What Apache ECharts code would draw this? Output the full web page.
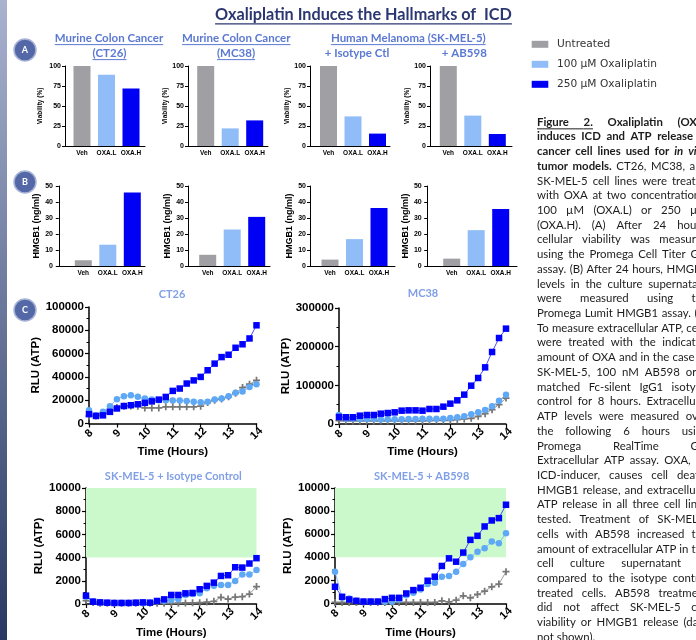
<!DOCTYPE html>
<html>
<head>
<meta charset="utf-8">
<script src="https://cdn.jsdelivr.net/npm/echarts@6/dist/echarts.min.js"></script>
</head>
<body style="margin:0; background:#fff">
<div id="container" style="width:696px; height:640px"></div>
<script>
// ---- data ----
var groups = ['Veh', 'OXA.L', 'OXA.H'];
var groupColors = ['#a0a0a4', '#90bdf8', '#0000f5'];

var viabCT26 = [100, 89, 72];
var viabMC38 = [100, 22, 32];
var viabSkIso = [100, 37, 15.5];
var viabSkAb = [100, 38, 15];

var hmgbCT26 = [3.6, 13.3, 46];
var hmgbMC38 = [7, 22.8, 30.7];
var hmgbSkIso = [4, 16.8, 36.2];
var hmgbSkAb = [4.6, 22.4, 35.7];

var hours = [8, 8.25, 8.5, 8.75, 9, 9.25, 9.5, 9.75, 10, 10.25, 10.5, 10.75, 11,
             11.25, 11.5, 11.75, 12, 12.25, 12.5, 12.75, 13, 13.25, 13.5, 13.75, 14];

var ct26Untreated = [6300, 6500, 8600, 10900, 13700, 14900, 15100, 14900, 13400, 13400, 13400, 14300, 14300,
                     14300, 14300, 14300, 14900, 18000, 20000, 21000, 23000, 26000, 30900, 33700, 37100];
var ct26Low = [11400, 7000, 10000, 14900, 20900, 23400, 24300, 22900, 21400, 20600, 20000, 20000, 19700,
               19700, 19400, 18600, 18300, 18600, 20600, 21400, 23400, 26300, 27400, 31400, 33700];
var ct26High = [8000, 6500, 7000, 10000, 12900, 15000, 15700, 16500, 17700, 19000, 20500, 22800, 28000,
                30000, 34300, 37000, 40000, 45700, 51400, 57000, 59000, 65000, 68000, 73000, 84300];

var mc38Untreated = [8600, 7800, 7800, 7800, 7800, 7800, 7800, 7800, 7800, 7800, 7800, 7800, 7800,
                     9000, 9500, 9500, 9500, 11200, 13000, 14600, 19800, 26700, 37100, 50000, 67200];
var mc38Low = [23300, 13800, 13800, 13000, 13000, 13000, 11800, 12000, 12000, 12500, 13000, 13000, 13500,
               13800, 13800, 13800, 15500, 17200, 19800, 25000, 30200, 36200, 45700, 60300, 75900];
var mc38High = [18100, 17500, 17500, 21500, 23300, 23300, 26700, 28400, 30200, 34500, 35300, 35300, 34500,
                38800, 38800, 44800, 52600, 61200, 75900, 99100, 119000, 146500, 186200, 222400, 246600];

var skIsoUntreated = [290, 140, 60, 60, 60, 60, 60, 60, 60, 60, 60, 60, 60,
                      70, 90, 100, 115, 170, 230, 580, 430, 600, 630, 860, 1500];
var skIsoLow = [630, 230, 140, 90, 90, 90, 90, 90, 90, 90, 230, 290, 350,
                400, 780, 860, 920, 1350, 1580, 1640, 1640, 1990, 2540, 2540, 2940];
var skIsoHigh = [720, 200, 140, 115, 90, 90, 90, 115, 140, 115, 260, 400, 780,
                 780, 920, 950, 1270, 1560, 1840, 2420, 2480, 3170, 3140, 3490, 3950];

var skAbUntreated = [90, 90, 90, 90, 90, 90, 90, 90, 90, 90, 90, 90, 90,
                     90, 90, 230, 150, 290, 670, 490, 780, 1070, 1450, 1680, 2750];
var skAbLow = [2750, 490, 430, 230, 145, 145, 145, 145, 145, 350, 720, 930, 1220,
               1680, 1800, 2320, 2380, 2750, 3420, 4000, 4490, 4780, 5360, 5220, 6090];
var skAbHigh = [1450, 580, 350, 230, 170, 170, 170, 380, 490, 490, 870, 1160, 1360,
                1970, 2320, 3250, 3910, 3620, 4410, 5510, 5860, 6670, 7190, 7390, 8550];

var legendNames = ['Untreated', '100 µM Oxaliplatin', '250 µM Oxaliplatin'];

var capLines = [
  '_Figure _2. *Oxaliplatin *(OXA)',
  '*induces *ICD *and *ATP *release *in',
  '*cancer *cell *lines *used *for ~in ~vivo',
  '*tumor *models. CT26, MC38, and',
  'SK-MEL-5 cell lines were treated',
  'with OXA at two concentrations:',
  '100 µM (OXA.L) or 250 µM',
  '(OXA.H). (A) After 24 hours,',
  'cellular viability was measured',
  'using the Promega Cell Titer Glo',
  'assay. (B) After 24 hours, HMGB1',
  'levels in the culture supernatant',
  'were measured using the',
  'Promega Lumit HMGB1 assay. (C)',
  'To measure extracellular ATP, cells',
  'were treated with the indicated',
  'amount of OXA and in the case of',
  'SK-MEL-5, 100 nM AB598 or a',
  'matched Fc-silent IgG1 isotype',
  'control for 8 hours. Extracellular',
  'ATP levels were measured over',
  'the following 6 hours using',
  'Promega RealTime Glo',
  'Extracellular ATP assay. OXA, an',
  'ICD-inducer, causes cell death,',
  'HMGB1 release, and extracellular',
  'ATP release in all three cell lines',
  'tested. Treatment of SK-MEL-5',
  'cells with AB598 increased the',
  'amount of extracellular ATP in the',
  'cell culture supernatant as',
  'compared to the isotype control',
  'treated cells. AB598 treatment',
  'did not affect SK-MEL-5 cell',
  'viability or HMGB1 release (data',
  'not shown).'
];

// ---- layout ----
var barValues = [viabCT26, viabMC38, viabSkIso, viabSkAb, hmgbCT26, hmgbMC38, hmgbSkIso, hmgbSkAb];
var barLayout = [
  {axis: 65, veh: 82, end: 145, top: 66, max: 100, step: 25, name: 'Viability (%)', gap: 21},
  {axis: 188, veh: 205.7, end: 268, top: 66, max: 100, step: 25, name: 'Viability (%)', gap: 16},
  {axis: 310, veh: 328.5, end: 390, top: 66, max: 100, step: 25, name: 'Viability (%)', gap: 18},
  {axis: 430, veh: 448.3, end: 512, top: 66, max: 100, step: 25, name: 'Viability (%)', gap: 17},
  {axis: 57, veh: 83.3, end: 145, top: 186, max: 50, step: 10, name: 'HMGB1 (ng/ml)', gap: 8},
  {axis: 188, veh: 207.7, end: 270, top: 186, max: 50, step: 10, name: 'HMGB1 (ng/ml)', gap: 15},
  {axis: 310, veh: 330, end: 395, top: 186, max: 50, step: 10, name: 'HMGB1 (ng/ml)', gap: 11},
  {axis: 425.7, veh: 451.7, end: 517, top: 186, max: 50, step: 10, name: 'HMGB1 (ng/ml)', gap: 6}
];
var barSpacing = 24.5;

var lineValues = [
  [ct26Untreated, ct26Low, ct26High],
  [mc38Untreated, mc38Low, mc38High],
  [skIsoUntreated, skIsoLow, skIsoHigh],
  [skAbUntreated, skAbLow, skAbHigh]
];
var lineLayout = [
  {left: 89, top: 307, width: 167.5, height: 116.5, max: 100000, step: 20000, gap: 45, band: false},
  {left: 339, top: 308, width: 167, height: 116, max: 300000, step: 100000, gap: 45, band: false},
  {left: 86, top: 488, width: 170.5, height: 116, max: 10000, step: 2000, gap: 35, band: true},
  {left: 335, top: 488, width: 171, height: 115.5, max: 10000, step: 2000, gap: 35, band: true}
];
var plusPath = 'path://M3,0H5V3H8V5H5V8H3V5H0V3H3Z';
var lineStyles = [
  {symbol: plusPath, size: 7, color: '#777777', line: '#9c9c9c'},
  {symbol: 'circle', size: 6.5, color: '#5ea8f6', line: '#86bdf7'},
  {symbol: 'rect', size: 6.5, color: '#0000ff', line: '#4a4aff'}
];

// ---- text helpers ----
var ctx = document.createElement('canvas').getContext('2d');
function textWidth(str, font) { ctx.font = font; return ctx.measureText(str).width; }
function fitSize(str, weight, family, target) {
  return 20 * target / textWidth(str, weight + ' 20px ' + family);
}

var graphics = [];
graphics.push({
  type: 'rect', shape: {x: 0, y: 0, width: 7, height: 640},
  style: {fill: new echarts.graphic.LinearGradient(0, 0, 0, 1, [
    {offset: 0, color: '#a9b2cf'}, {offset: 1, color: '#283862'}])}
});

function addText(txt, cx, cy, size, weight, family, color, underline) {
  var w = textWidth(txt, weight + ' ' + size + 'px ' + family);
  graphics.push({type: 'text', style: {text: txt, x: cx, y: cy, align: 'center', verticalAlign: 'middle',
    fontSize: size, fontWeight: weight, fontFamily: family, fill: color}});
  if (underline) {
    var uy = cy + size * 0.55;
    graphics.push({type: 'line', shape: {x1: cx - w / 2, y1: uy, x2: cx + w / 2, y2: uy},
      style: {stroke: color, lineWidth: Math.max(1, size / 14)}});
  }
}

var titleSize = fitSize('Oxaliplatin Induces the Hallmarks of  ICD', 'bold', 'Lato', 297);
addText('Oxaliplatin Induces the Hallmarks of  ICD', 363.5, 15, titleSize, 'bold', 'Lato', '#2b3770', true);

var subSize = fitSize('Human Melanoma (SK-MEL-5)', 'bold', 'Lato', 155);
var subColor = '#5b79d3';
addText('Murine Colon Cancer', 109, 38.3, subSize, 'bold', 'Lato', subColor, true);
addText('(CT26)', 109.5, 53.3, subSize, 'bold', 'Lato', subColor, true);
addText('Murine Colon Cancer', 236.3, 38.3, subSize, 'bold', 'Lato', subColor, true);
addText('(MC38)', 236, 53.3, subSize, 'bold', 'Lato', subColor, true);
addText('Human Melanoma (SK-MEL-5)', 408.3, 38.3, subSize, 'bold', 'Lato', subColor, true);
addText('+ Isotype Ctl', 357, 53.3, subSize, 'bold', 'Lato', subColor, false);
addText('+ AB598', 464.3, 53.3, subSize, 'bold', 'Lato', subColor, false);

var cTitleSize = fitSize('SK-MEL-5 + Isotype Control', 'bold', 'Lato', 137);
var cTitleColor = '#809fe6';
addText('CT26', 172, 294, cTitleSize, 'bold', 'Lato', cTitleColor, false);
addText('MC38', 423, 293, cTitleSize, 'bold', 'Lato', cTitleColor, false);
addText('SK-MEL-5 + Isotype Control', 173.3, 476, cTitleSize, 'bold', 'Lato', cTitleColor, false);
addText('SK-MEL-5 + AB598', 421.7, 476, cTitleSize, 'bold', 'Lato', cTitleColor, false);

// panel letters
[['A', 50], ['B', 182], ['C', 310]].forEach(function (p) {
  graphics.push({type: 'circle', shape: {cx: 25, cy: p[1], r: 11},
    style: {fill: '#5468a8', stroke: '#aab4d6', lineWidth: 1.5}});
  graphics.push({type: 'text', style: {text: p[0], x: 25, y: p[1], align: 'center', verticalAlign: 'middle',
    fontSize: 9, fontWeight: 'bold', fontFamily: 'Lato', fill: '#ffffff'}});
});

// legend
var legSize = fitSize('100 µM Oxaliplatin', 'normal', 'DejaVu Sans', 100);
legendNames.forEach(function (name, i) {
  var cy = 44.3 + i * 20;
  graphics.push({type: 'rect', shape: {x: 531.7, y: cy - 3.5, width: 16.6, height: 7},
    style: {fill: groupColors[i]}});
  graphics.push({type: 'text', style: {text: name, x: 557, y: cy, align: 'left', verticalAlign: 'middle',
    fontSize: legSize, fontFamily: 'DejaVu Sans', fill: '#333333'}});
});

// justified caption
var capX = 537, capW = 171, capY0 = 122, capDy = 14.72;
var capSize = fitSize('amount of extracellular ATP in t', 'normal', 'Lato', 158);
function capFont(w) {
  return (w.italic ? 'italic ' : '') + (w.bold ? 'bold ' : 'normal ') + capSize + 'px Lato';
}
capLines.forEach(function (line, li) {
  var words = line.split(' ').map(function (tok) {
    var c = tok.charAt(0);
    if (c === '*') return {text: tok.slice(1), bold: true};
    if (c === '~') return {text: tok.slice(1), bold: true, italic: true};
    if (c === '_') return {text: tok.slice(1), bold: true, under: true};
    return {text: tok};
  });
  var widths = words.map(function (w) { return textWidth(w.text, capFont(w)); });
  var total = widths.reduce(function (a, b) { return a + b; }, 0);
  var space = textWidth(' ', 'normal ' + capSize + 'px Lato');
  var gap = space;
  if (li < capLines.length - 1 && words.length > 1) gap = Math.max(space, (capW - total) / (words.length - 1));
  var x = capX, y = capY0 + li * capDy;
  words.forEach(function (w, wi) {
    graphics.push({type: 'text', style: {text: w.text, x: x, y: y, align: 'left', verticalAlign: 'middle',
      fontSize: capSize, fontFamily: 'Lato', fontWeight: w.bold ? 'bold' : 'normal',
      fontStyle: w.italic ? 'italic' : 'normal', fill: '#1c1c1c'}});
    if (w.under) {
      var x2 = x + widths[wi] + ((words[wi + 1] && words[wi + 1].under) ? gap : 0);
      graphics.push({type: 'line', shape: {x1: x, y1: y + capSize * 0.6, x2: x2, y2: y + capSize * 0.6},
        style: {stroke: '#1c1c1c', lineWidth: 1}});
    }
    x += widths[wi] + gap;
  });
});

// ---- charts ----
var grids = [], xAxes = [], yAxes = [], series = [];
var axisFont = 'Liberation Sans';
function plain(v) { return String(v); }

barLayout.forEach(function (b, i) {
  grids.push({left: b.axis, top: b.top, width: b.end - b.axis, height: 80});
  xAxes.push({
    type: 'value', gridIndex: i,
    min: 1 - (b.veh - b.axis) / barSpacing,
    max: 1 + (b.end - b.veh) / barSpacing,
    splitLine: {show: false}, axisTick: {show: false},
    axisLine: {show: true, lineStyle: {color: '#000', width: 1}},
    axisLabel: {customValues: [1, 2, 3], margin: 4, fontSize: 6.5, fontWeight: 'bold', fontFamily: axisFont,
      color: '#000', formatter: function (v) { return groups[Math.round(v) - 1] || ''; }}
  });
  yAxes.push({
    type: 'value', gridIndex: i, min: 0, max: b.max, interval: b.step,
    name: b.name, nameLocation: 'middle', nameGap: b.gap,
    nameTextStyle: {fontSize: i < 4 ? 6.5 : 9, fontWeight: 'bold', fontFamily: axisFont, color: '#000'},
    splitLine: {show: false},
    axisLine: {show: true, lineStyle: {color: '#000', width: 1}},
    axisTick: {show: true, length: 3, lineStyle: {color: '#000'}},
    axisLabel: {margin: 4, fontSize: 7, fontWeight: 'bold', fontFamily: axisFont, color: '#000', formatter: plain}
  });
  series.push({
    type: 'bar', xAxisIndex: i, yAxisIndex: i, barWidth: 17,
    data: barValues[i].map(function (v, k) {
      return {value: [k + 1, v], itemStyle: {color: groupColors[k]}};
    })
  });
});

lineLayout.forEach(function (p, j) {
  var idx = barLayout.length + j;
  grids.push({left: p.left, top: p.top, width: p.width, height: p.height});
  xAxes.push({
    type: 'value', gridIndex: idx, min: 8, max: 14, interval: 1,
    name: 'Time (Hours)', nameLocation: 'middle', nameGap: j < 2 ? 22 : 23,
    nameTextStyle: {fontSize: 11.5, fontWeight: 'bold', fontFamily: axisFont, color: '#000'},
    splitLine: {show: false},
    axisLine: {show: true, lineStyle: {color: '#000', width: 1.5}},
    axisTick: {show: true, length: 4, lineStyle: {color: '#000', width: 1.2}},
    axisLabel: {rotate: 45, margin: 10, align: 'center', verticalAlign: 'middle',
      fontSize: 11, fontWeight: 'bold', fontFamily: axisFont, color: '#000'}
  });
  yAxes.push({
    type: 'value', gridIndex: idx, min: 0, max: p.max, interval: p.step,
    name: 'RLU (ATP)', nameLocation: 'middle', nameGap: p.gap,
    nameTextStyle: {fontSize: 11.5, fontWeight: 'bold', fontFamily: axisFont, color: '#000'},
    splitLine: {show: false},
    axisLine: {show: true, lineStyle: {color: '#000', width: 1.5}},
    axisTick: {show: true, length: 4, lineStyle: {color: '#000', width: 1.2}},
    minorTick: {show: true, splitNumber: 2, length: 2.5, lineStyle: {color: '#000', width: 1}},
    axisLabel: {margin: 5, fontSize: 11.5, fontWeight: 'bold', fontFamily: axisFont, color: '#000', formatter: plain}
  });
  lineValues[j].forEach(function (vals, k) {
    var st = lineStyles[k];
    var s = {
      type: 'line', xAxisIndex: idx, yAxisIndex: idx,
      name: legendNames[k],
      symbol: st.symbol, symbolSize: st.size, showAllSymbol: true,
      itemStyle: {color: st.color},
      lineStyle: {color: st.line, width: 1},
      data: hours.map(function (h, n) { return [h, vals[n]]; })
    };
    if (k === 0 && p.band) {
      s.markArea = {silent: true, itemStyle: {color: '#ccf9cc'},
        data: [[{yAxis: 4000}, {yAxis: 10000}]]};
    }
    series.push(s);
  });
});

var dom = document.getElementById('container');
var myChart = echarts.init(dom);
var option = {
  animation: false,
  grid: grids,
  xAxis: xAxes,
  yAxis: yAxes,
  series: series,
  graphic: graphics
};
myChart.setOption(option);
</script>
</body>
</html>
